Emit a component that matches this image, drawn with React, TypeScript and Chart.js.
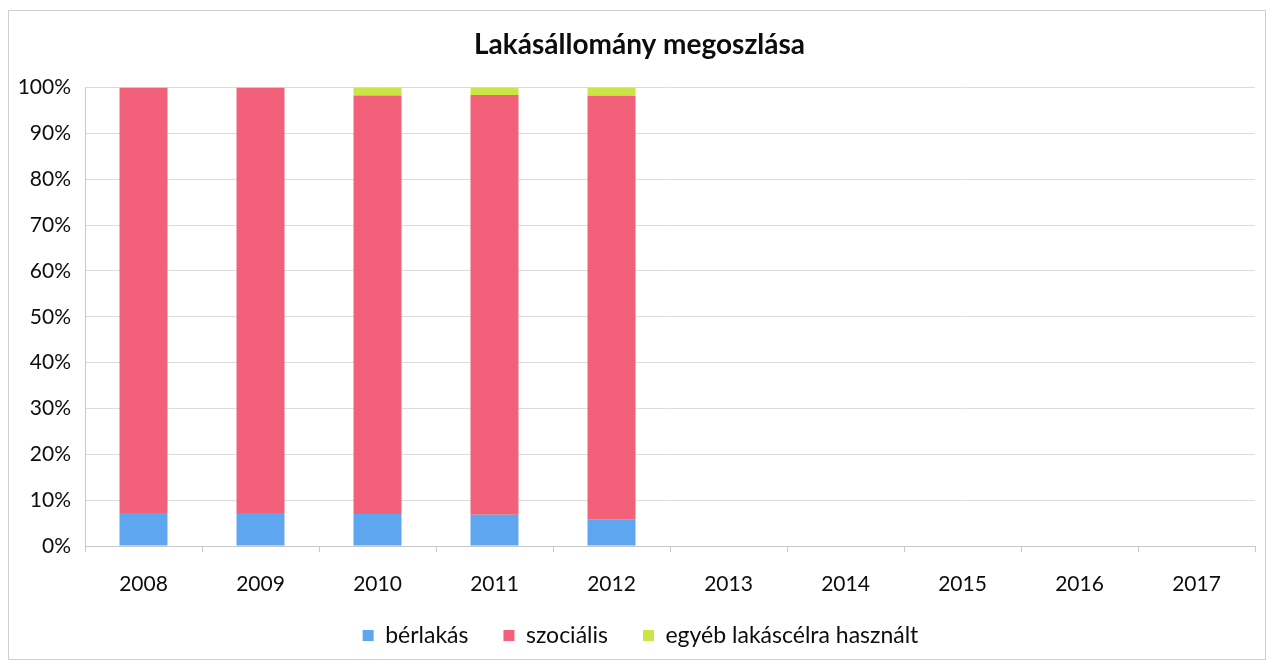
import React, { useEffect, useRef } from "react";
import { Chart, registerables } from "chart.js";

Chart.register(...registerables);

const title = "Lakásállomány megoszlása";
const categories = ["2008", "2009", "2010", "2011", "2012", "2013", "2014", "2015", "2016", "2017"];
const berlakas = [7.2, 7.2, 7.0, 6.8, 5.7, null, null, null, null, null];
const szocialis = [92.8, 92.8, 91.3, 91.6, 92.5, null, null, null, null, null];
const egyeb = [0, 0, 1.7, 1.6, 1.8, null, null, null, null, null];
const seriesNames = ["bérlakás", "szociális", "egyéb lakáscélra használt"];
const seriesColors = ["#5ea6ef", "#f26079", "#cde447"];

const FONT = "Lato, 'Open Sans', sans-serif";
const TEXT = "#0d0d0d";

export default function App() {
  const ref = useRef<HTMLCanvasElement | null>(null);
  useEffect(() => {
    document.body.style.margin = "0";
    const ctx = ref.current!;
    const framePlugin = {
      id: "frame",
      afterLayout(chart: any) {
        const lg = chart.legend;
        if (lg) {
          lg.top -= 24;
          lg.bottom -= 24;
          lg.left += 8;
          lg.right += 8;
        }
        const tb = chart.titleBlock;
        if (tb) {
          tb.left += 7;
          tb.right += 7;
        }
      },
      beforeDraw(chart: any) {
        const c = chart.ctx;
        c.save();
        c.fillStyle = "#ffffff";
        c.fillRect(0, 0, chart.width, chart.height);
        c.strokeStyle = "#cfcfcf";
        c.lineWidth = 1;
        c.strokeRect(8.5, 10.5, chart.width - 17, chart.height - 12);
        c.restore();
      },
    };
    const chart = new Chart(ctx, {
      type: "bar",
      data: {
        labels: categories,
        datasets: [
          { label: seriesNames[0], data: berlakas, backgroundColor: seriesColors[0] },
          { label: seriesNames[1], data: szocialis, backgroundColor: seriesColors[1] },
          { label: seriesNames[2], data: egyeb, backgroundColor: seriesColors[2] },
        ] as any,
      },
      options: {
        animation: false,
        responsive: false,
        maintainAspectRatio: false,
        datasets: { bar: { categoryPercentage: 1, barPercentage: 0.41 } } as any,
        layout: { padding: { left: 10, right: 19, top: 28, bottom: -20 } },
        plugins: {
          title: {
            display: true,
            text: title,
            color: TEXT,
            font: { family: FONT, size: 28, weight: "bold" },
            padding: { top: 0, bottom: 26 },
          },
          legend: {
            position: "bottom",
            labels: {
              color: TEXT,
              font: { family: FONT, size: 23 },
              boxWidth: 11,
              boxHeight: 11,
              padding: 35,
            },
          },
          tooltip: { enabled: false },
        },
        scales: {
          x: {
            stacked: true,
            grid: { display: true, drawOnChartArea: false, drawTicks: true, tickLength: 6, color: "#c8c8c8" },
            border: { display: true, color: "#c8c8c8" },
            ticks: { color: TEXT, font: { family: FONT, size: 21 }, padding: 20 },
            afterFit(scale: any) {
              scale.height = 67;
            },
          },
          y: {
            stacked: true,
            min: 0,
            max: 100,
            ticks: {
              stepSize: 10,
              color: TEXT,
              font: { family: FONT, size: 21 },
              padding: 14,
              callback: (v: any) => v + "%",
            },
            grid: { color: "#dcdcdc", drawTicks: false },
            border: { display: true, color: "#c8c8c8" },
            afterFit(scale: any) {
              scale.width = 75;
            },
          },
        },
      } as any,
      plugins: [framePlugin],
    });
    return () => chart.destroy();
  }, []);
  return (
    <div style={{ width: 1274, height: 661 }}>
      <canvas ref={ref} width={1274} height={661} style={{ display: "block" }} />
    </div>
  );
}
